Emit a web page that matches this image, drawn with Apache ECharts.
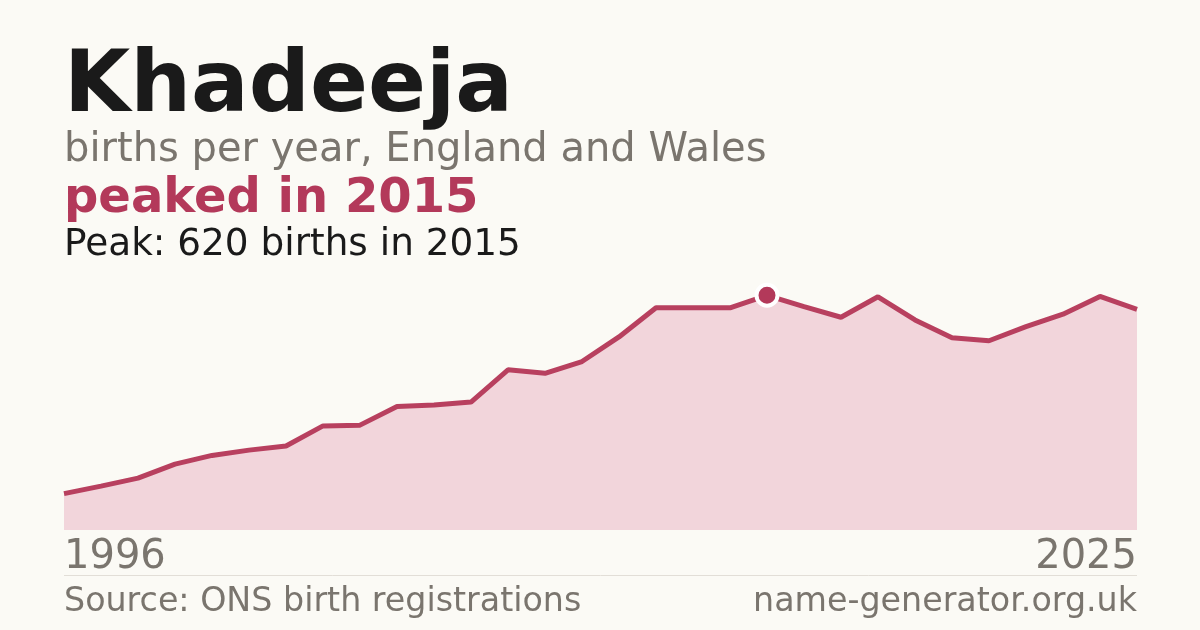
<!DOCTYPE html>
<html>
<head>
    <meta charset="utf-8">
    <title>Khadeeja</title>
    <script src="https://cdn.jsdelivr.net/npm/echarts@6/dist/echarts.min.js"></script>
    <style>
        html, body { margin: 0; padding: 0; background: #fbfaf5; }
    </style>
</head>
<body>
    <div id="main" style="width: 1200px; height:630px;"></div>
    <script type="text/javascript">
        // births per year
        var years = ['1996','1997','1998','1999','2000','2001','2002','2003','2004','2005',
            '2006','2007','2008','2009','2010','2011','2012','2013','2014','2015',
            '2016','2017','2018','2019','2020','2021','2022','2023','2024','2025'];
        var births = [96, 116, 137, 174, 197, 211, 222, 275, 277, 326,
            330, 338, 423, 414, 445, 510, 587, 587, 587, 620,
            590, 562, 616, 555, 508, 500, 537, 570, 617, 583];
        var peakYear = '2015';
        var peakValue = 620;
        var edgeLabels = ['1996', '2025'];

        var red = '#b3395a';
        var grey = '#7a756e';
        var font = 'DejaVu Sans';

        var myChart = echarts.init(document.getElementById('main'));

        var option = {
            backgroundColor: '#fbfaf5',
            animation: false,
            grid: {
                left: 64,
                right: 63,
                top: 265,
                bottom: 100
            },
            xAxis: {
                type: 'category',
                data: years,
                boundaryGap: false,
                axisLine: { show: false },
                axisTick: { show: false },
                splitLine: { show: false },
                axisLabel: {
                    interval: 0,
                    margin: 28,
                    verticalAlign: 'middle',
                    alignMinLabel: 'left',
                    alignMaxLabel: 'right',
                    color: grey,
                    fontSize: 40,
                    fontFamily: font,
                    formatter: function (v) {
                        return edgeLabels.indexOf(v) >= 0 ? v : '';
                    }
                }
            },
            yAxis: {
                type: 'value',
                min: 0,
                max: 700,
                show: false
            },
            series: [
                {
                    type: 'line',
                    data: births,
                    symbol: 'none',
                    clip: false,
                    lineStyle: { color: '#b8405f', width: 5 },
                    areaStyle: { color: '#f2d5db', opacity: 1 }
                },
                {
                    type: 'scatter',
                    data: [[years.indexOf(peakYear), peakValue]],
                    symbol: 'circle',
                    symbolSize: 21,
                    clip: false,
                    itemStyle: {
                        color: red,
                        borderColor: '#ffffff',
                        borderWidth: 4,
                        opacity: 1
                    },
                    z: 5
                }
            ],
            graphic: [
                {
                    type: 'text', x: 64, y: 89,
                    style: { text: 'Khadeeja', font: 'bold 85.5px "DejaVu Sans"', fill: '#1a1a1a', verticalAlign: 'middle' }
                },
                {
                    type: 'text', x: 64, y: 151,
                    style: { text: 'births per year, England and Wales', font: '40px "DejaVu Sans"', fill: grey, verticalAlign: 'middle' }
                },
                {
                    type: 'text', x: 64, y: 200,
                    style: { text: 'peaked in ' + peakYear, font: 'bold 48px "DejaVu Sans"', fill: red, verticalAlign: 'middle' }
                },
                {
                    type: 'text', x: 64, y: 245,
                    style: { text: 'Peak: ' + peakValue + ' births in ' + peakYear, font: '37.4px "DejaVu Sans"', fill: '#1a1a1a', verticalAlign: 'middle' }
                },
                {
                    type: 'line',
                    shape: { x1: 64, y1: 575.5, x2: 1137, y2: 575.5 },
                    style: { stroke: '#e2ded7', lineWidth: 1 }
                },
                {
                    type: 'text', x: 64, y: 602,
                    style: { text: 'Source: ONS birth registrations', font: '33.3px "DejaVu Sans"', fill: grey, verticalAlign: 'middle' }
                },
                {
                    type: 'text', x: 1137, y: 602,
                    style: { text: 'name-generator.org.uk', font: '33.3px "DejaVu Sans"', fill: grey, align: 'right', verticalAlign: 'middle' }
                }
            ]
        };

        myChart.setOption(option);
    </script>
</body>
</html>
